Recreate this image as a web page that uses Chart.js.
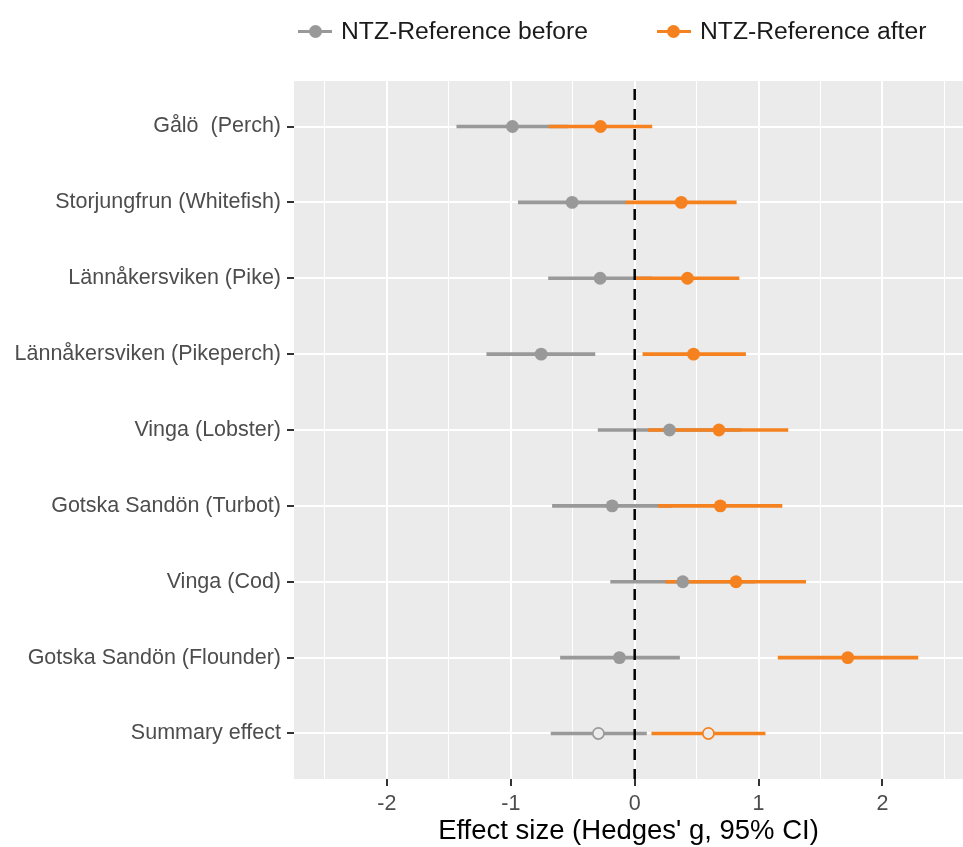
<!DOCTYPE html>
<html><head><meta charset="utf-8">
<script src="https://cdn.jsdelivr.net/npm/chart.js@4/dist/chart.umd.min.js"></script>
<style>
html,body{margin:0;padding:0;background:#fff;}
#wrap{position:relative;width:963px;height:847px;overflow:hidden;}
#legend{position:absolute;left:298px;top:16px;display:flex;gap:69px;font-family:"Liberation Sans",Arial,sans-serif;font-size:24.7px;line-height:30px;color:#1a1a1a;white-space:nowrap;}
.item{display:flex;align-items:center;}
.icon{position:relative;width:34px;height:14px;margin-right:9px;}
.icon .ln{position:absolute;left:0;right:0;top:5.5px;height:3px;}
.icon .dt{position:absolute;left:10.5px;top:0.5px;width:13px;height:13px;border-radius:50%;}
</style></head>
<body><div id="wrap"><canvas id="c" width="963" height="847"></canvas><div id="legend"></div></div>
<script>
const categories = ['Gålö  (Perch)','Storjungfrun (Whitefish)','Lännåkersviken (Pike)','Lännåkersviken (Pikeperch)','Vinga (Lobster)','Gotska Sandön (Turbot)','Vinga (Cod)','Gotska Sandön (Flounder)','Summary effect'];
const beforeEst  = [-0.987,-0.505,-0.279,-0.755, 0.281,-0.182, 0.388,-0.123,-0.293];
const beforeLow  = [-1.436,-0.939,-0.696,-1.194,-0.295,-0.664,-0.194,-0.599,-0.675];
const beforeHigh = [-0.538,-0.071, 0.138,-0.321, 0.857, 0.300, 0.970, 0.362, 0.095];
const afterEst   = [-0.276, 0.376, 0.426, 0.475, 0.680, 0.691, 0.818, 1.720, 0.595];
const afterLow   = [-0.691,-0.071, 0.006, 0.066, 0.111, 0.192, 0.251, 1.158, 0.138];
const afterHigh  = [ 0.139, 0.820, 0.842, 0.895, 1.237, 1.189, 1.380, 2.286, 1.053];
const isSummary  = [false,false,false,false,false,false,false,false,true];
const seriesNames = ['NTZ-Reference before','NTZ-Reference after'];
const xMajorTicks = [-2,-1,0,1,2];
const xMinorTicks = [-2.5,-1.5,-0.5,0.5,1.5,2.5];
const xLimits = [-2.75, 2.65];
const refLineX = 0;

const GREY = '#999999', ORANGE = '#F5821F', PANEL = '#EBEBEB';
const FONT = '"Liberation Sans", Arial, sans-serif';

function bars(lo, hi){ return categories.map((_, i) => ({y: i + 1, x: [lo[i], hi[i]]})); }
function pts(est){ return categories.map((_, i) => ({y: i + 1, x: est[i]})); }

const bgPlugin = {
  id: 'panelBg',
  beforeDraw(chart){
    const {ctx, chartArea: a} = chart;
    ctx.save();
    ctx.fillStyle = '#ffffff';
    ctx.fillRect(0, 0, chart.width, chart.height);
    ctx.fillStyle = PANEL;
    ctx.fillRect(a.left, a.top, a.right - a.left, a.bottom - a.top);
    ctx.restore();
  }
};
const refPlugin = {
  id: 'refLine',
  afterDatasetsDraw(chart){
    const {ctx, chartArea: a, scales} = chart;
    const x = scales.x.getPixelForValue(refLineX);
    ctx.save();
    ctx.strokeStyle = '#000';
    ctx.lineWidth = 2.5;
    ctx.setLineDash([11, 9]);
    ctx.lineDashOffset = -8;
    ctx.beginPath();
    ctx.moveTo(x, a.top);
    ctx.lineTo(x, a.bottom);
    ctx.stroke();
    ctx.restore();
  }
};

const chart = new Chart(document.getElementById('c'), {
  type: 'bar',
  data: {
    datasets: [
      {type: 'bar', label: seriesNames[0] + ' CI', data: bars(beforeLow, beforeHigh), backgroundColor: GREY, barThickness: 3, grouped: false, order: 4},
      {type: 'bar', label: seriesNames[1] + ' CI', data: bars(afterLow, afterHigh), backgroundColor: ORANGE, barThickness: 3, grouped: false, order: 3},
      {type: 'line', label: seriesNames[0], data: pts(beforeEst), showLine: false, order: 2,
        borderColor: GREY, pointBorderColor: GREY,
        pointBackgroundColor: isSummary.map(s => s ? PANEL : GREY),
        pointRadius: isSummary.map(s => s ? 5.6 : 6.4),
        pointBorderWidth: isSummary.map(s => s ? 1.7 : 0)},
      {type: 'line', label: seriesNames[1], data: pts(afterEst), showLine: false, order: 1,
        borderColor: ORANGE, pointBorderColor: ORANGE,
        pointBackgroundColor: isSummary.map(s => s ? PANEL : ORANGE),
        pointRadius: isSummary.map(s => s ? 5.6 : 6.4),
        pointBorderWidth: isSummary.map(s => s ? 1.7 : 0)}
    ]
  },
  options: {
    responsive: false,
    animation: false,
    devicePixelRatio: 1,
    indexAxis: 'y',
    layout: {autoPadding: false, padding: {top: 81, left: 0, right: 0, bottom: 0}},
    plugins: {legend: {display: false}, tooltip: {enabled: false}},
    scales: {
      y: {
        type: 'linear', reverse: true, min: 0.4, max: 9.6, offset: false,
        afterBuildTicks(scale){ scale.ticks = categories.map((_, i) => ({value: i + 1})); },
        afterFit(scale){ scale.width = 294; },
        border: {display: false},
        grid: {offset: false, color: '#ffffff', lineWidth: 2, tickColor: '#333333', tickLength: 7, tickWidth: 2},
        ticks: {callback: v => categories[v - 1], color: '#4D4D4D', font: {family: FONT, size: 21.5}, padding: 6, autoSkip: false}
      },
      x: {
        type: 'linear', min: xLimits[0], max: xLimits[1], offset: false,
        afterBuildTicks(scale){ scale.ticks = xMajorTicks.concat(xMinorTicks).sort((a, b) => a - b).map(v => ({value: v})); },
        afterFit(scale){ scale.height = 68; },
        border: {display: false},
        grid: {
          offset: false,
          color: '#ffffff',
          lineWidth: c => (c.tick && xMajorTicks.includes(c.tick.value)) ? 2 : 1,
          tickColor: c => (c.tick && xMajorTicks.includes(c.tick.value)) ? '#333333' : 'rgba(0,0,0,0)',
          tickLength: 7, tickWidth: 2
        },
        ticks: {callback: v => xMajorTicks.includes(v) ? String(v) : '', color: '#4D4D4D', font: {family: FONT, size: 21.5}, padding: 5, autoSkip: false, maxRotation: 0},
        title: {display: true, text: "Effect size (Hedges' g, 95% CI)", color: '#000000', font: {family: FONT, size: 27.5, lineHeight: 1.1}, padding: {top: 0, bottom: 0}}
      }
    }
  },
  plugins: [bgPlugin, refPlugin]
});

// HTML legend built from the point datasets
const legendEl = document.getElementById('legend');
chart.data.datasets.filter(d => d.type === 'line').forEach(d => {
  const item = document.createElement('div'); item.className = 'item';
  const icon = document.createElement('div'); icon.className = 'icon';
  const ln = document.createElement('div'); ln.className = 'ln'; ln.style.background = d.borderColor;
  const dt = document.createElement('div'); dt.className = 'dt'; dt.style.background = d.borderColor;
  icon.appendChild(ln); icon.appendChild(dt);
  const tx = document.createElement('span'); tx.textContent = d.label;
  item.appendChild(icon); item.appendChild(tx);
  legendEl.appendChild(item);
});
</script>
</body></html>
